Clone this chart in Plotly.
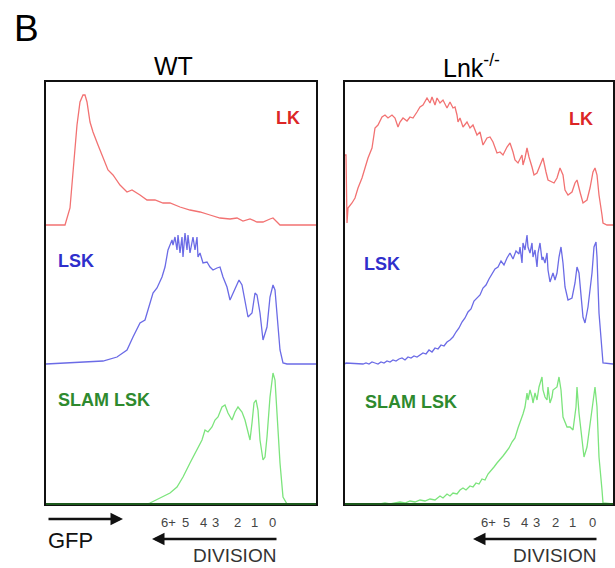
import plotly.graph_objects as go

# ---------------- data (GFP channel vs. relative cell count) ----------------
panels = ["WT", "Lnk<sup>-/-</sup>"]
populations = ["LK", "LSK", "SLAM LSK"]

# WT
wt_lk_x = [0, 19, 24, 27, 31, 34, 37, 39, 41, 44, 47, 52, 57, 62, 67, 74, 81, 86, 94, 101, 109, 117, 124, 134,
           144, 154, 164, 174, 184, 191, 197, 204, 211, 217, 224, 227, 231, 234, 270]
wt_lk_y = [0, 0, 17, 50, 100, 123, 130, 130, 123, 103, 93, 80, 67, 55, 50, 40, 33, 35, 30, 25, 25, 22, 22, 18,
           15, 13, 10, 7, 6, 7, 4, 6, 3, 3, 6, 7, 3, 0, 0]

wt_lsk_x = [0, 34, 57, 71, 81, 87, 94, 99, 102, 107, 111, 116, 119, 122, 124, 126, 127, 129, 131, 132, 134, 136,
            137, 139, 141, 142, 144, 147, 149, 151, 152, 154, 157, 161, 164, 167, 171, 174, 177, 181, 184, 187,
            191, 193, 196, 199, 202, 206, 209, 211, 214, 217, 221, 224, 227, 229, 231, 234, 237, 241, 270]
wt_lsk_y = [0, 2, 3, 7, 14, 27, 41, 44, 54, 71, 76, 87, 97, 114, 119, 124, 119, 127, 114, 129, 111, 127,
            107, 131, 114, 129, 111, 127, 114, 127, 107, 111, 101, 102, 97, 94, 96, 97, 87, 77, 64, 71,
            81, 84, 79, 61, 47, 51, 71, 69, 51, 24, 37, 67, 79, 74, 51, 14, 1, 0, 0]

wt_slam_x = [0, 101, 104, 114, 124, 131, 137, 144, 151, 156, 159, 162, 166, 169, 172, 176, 179, 182, 186, 189,
             192, 196, 199, 202, 204, 206, 208, 210, 212, 214, 217, 219, 221, 224, 226, 227, 229, 231, 234, 237,
             241, 270]
wt_slam_y = [0, 0, 1, 6, 11, 17, 27, 41, 54, 64, 74, 72, 77, 84, 87, 97, 99, 91, 84, 92,
             97, 92, 84, 71, 64, 81, 101, 104, 94, 64, 44, 47, 67, 107, 127, 131, 124, 91, 41, 7,
             0, 0]

# Lnk-/-
ko_lk_x = [0, 1, 2, 3, 7, 10, 13, 17, 20, 23, 27, 30, 33, 37, 40, 43, 47, 50, 53, 55, 58, 62, 65, 68, 72, 75,
           78, 82, 85, 87, 90, 92, 95, 98, 102, 105, 108, 110, 112, 113, 115, 118, 122, 125, 128, 132, 135, 138,
           142, 145, 148, 152, 155, 158, 162, 165, 168, 170, 173, 177, 178, 180, 182, 184, 187, 189, 192, 195,
           198, 201, 203, 207, 209, 212, 215, 218, 220, 223, 227, 230, 232, 235, 238, 242, 245, 248, 250, 252,
           254, 257, 258, 262, 268]
ko_lk_y = [70, 70, 2, 17, 22, 27, 37, 47, 57, 67, 77, 97, 100, 108, 110, 107, 110, 107, 98, 103, 107, 104,
           108, 107, 113, 118, 120, 127, 122, 128, 120, 127, 122, 125, 117, 123, 117, 118, 110, 103, 107, 98,
           103, 97, 100, 90, 93, 80, 87, 88, 83, 72, 73, 70, 78, 82, 73, 65, 62, 70, 60, 67, 77, 68, 58, 50,
           52, 60, 67, 53, 45, 43, 42, 47, 57, 50, 35, 30, 33, 42, 45, 33, 22, 25, 37, 53, 57, 50, 30, 10, 2,
           0, 0]

ko_lsk_x = [0, 1, 18, 21, 24, 27, 30, 33, 36, 39, 42, 45, 48, 51, 54, 57, 60, 63, 66, 69, 72, 75, 78, 81, 84,
            87, 90, 93, 96, 99, 102, 105, 108, 111, 114, 117, 120, 123, 126, 129, 132, 135, 138, 141, 144, 147,
            150, 153, 156, 159, 162, 165, 168, 171, 174,
            175, 177, 178, 180, 182, 183, 185, 187, 188, 190,
            192, 193, 195, 197, 198, 200, 202, 203, 205, 207, 208, 210, 212, 214, 216, 218, 220, 223, 227, 230,
            232, 234, 236, 238, 240, 243, 247, 249, 251, 252, 254, 257, 258, 268]
ko_lsk_y = [0, 1, 0, 1, 0, 2, 1, 0, 2, 1, 3, 2, 4, 3, 5, 6, 4, 7, 6, 8, 7, 9, 11, 10, 14,
            12, 16, 15, 19, 18, 22, 24, 27, 32, 36, 42, 46, 52, 55, 63, 66, 69, 76, 79, 85, 90,
            95, 97, 103, 99, 106, 111, 105, 113, 110,
            117, 101, 121, 114, 129, 117, 111, 121, 107, 114,
            97, 111, 121, 104, 107, 101, 111, 94, 82, 87, 91, 84, 91, 107, 117, 101, 77, 64, 66, 81,
            97, 91, 64, 47, 41, 57, 91, 117, 122, 107, 51, 11, 1, 0]

ko_slam_x = [0, 1, 35, 40, 45, 50, 55, 60, 65, 70, 75, 80, 85, 90, 95, 98, 102, 105, 108, 112, 115, 118, 121,
             125, 128, 131, 134, 137, 140, 143, 146, 149, 152, 155, 158, 161, 164, 167, 170, 173, 176, 178, 180,
             182, 183, 185, 187, 188, 190, 192, 194, 197, 198, 200, 202, 203, 205, 207, 208, 212, 214, 216, 218,
             222, 225, 228, 231, 232, 234, 237, 239, 242, 245, 248, 250, 252, 254, 257, 258, 268]
ko_slam_y = [0, 0, 0, 1, 0, 1, 2, 1, 3, 2, 4, 3, 5, 4, 8, 6, 10, 8, 11, 10, 14, 16, 14,
             18, 17, 21, 20, 25, 24, 30, 33, 37, 41, 44, 48, 52, 56, 62, 66, 76, 84, 90, 97,
             111, 104, 114, 107, 101, 111, 104, 117, 127, 114, 107, 104, 117, 101, 107, 114, 117, 127, 114, 87,
             77, 77, 74, 97, 117, 91, 61, 47, 57, 81, 107, 117, 97, 47, 14, 1, 0]

# division tick positions (GFP channel) and labels
div_labels = ["6+", "5", "4", "3", "2", "1", "0"]
wt_div_pos = [122, 139, 157, 169, 191, 208, 226]
ko_div_pos = [143, 161, 179, 191, 210, 227, 247]

curves = {
    0: {"LK": (wt_lk_x, wt_lk_y), "LSK": (wt_lsk_x, wt_lsk_y), "SLAM LSK": (wt_slam_x, wt_slam_y)},
    1: {"LK": (ko_lk_x, ko_lk_y), "LSK": (ko_lsk_x, ko_lsk_y), "SLAM LSK": (ko_slam_x, ko_slam_y)},
}

# ---------------- styling / layout ----------------
W, H = 615, 568
offsets = {"LK": 279, "LSK": 140, "SLAM LSK": 0}
line_colors = {"LK": "#f27272", "LSK": "#6b6be6", "SLAM LSK": "#7ce47c"}
label_colors = {"LK": "#dc2626", "LSK": "#2f2fcc", "SLAM LSK": "#2e8a2e"}
panel_px = [(46, 316), (345, 613)]
top_px, bot_px = 82, 504
x_ranges = [[0, 270], [0, 268]]
y_range = [0, 422]


def px(x):
    return x / W


def py(y):
    return 1 - y / H


fig = go.Figure()
for i in range(2):
    xa = "x" if i == 0 else "x2"
    ya = "y" if i == 0 else "y2"
    for pop in populations:
        xs, ys = curves[i][pop]
        fig.add_trace(go.Scatter(
            x=xs, y=[v + offsets[pop] for v in ys], mode="lines",
            line=dict(color=line_colors[pop], width=1.3, shape="linear"),
            xaxis=xa, yaxis=ya, showlegend=False, hoverinfo="skip"))

axis_common = dict(showgrid=False, zeroline=False, showticklabels=False, ticks="",
                   showline=True, mirror=True, linecolor="#111111", linewidth=1.6)
layout = dict(width=W, height=H, margin=dict(l=0, r=0, t=0, b=0), autosize=False,
              plot_bgcolor="white", paper_bgcolor="white", showlegend=False)
for i in range(2):
    sfx = "" if i == 0 else "2"
    layout["xaxis" + sfx] = dict(domain=[px(panel_px[i][0]), px(panel_px[i][1])], range=x_ranges[i],
                                 anchor="y" + sfx, **axis_common)
    layout["yaxis" + sfx] = dict(domain=[py(bot_px), py(top_px)], range=y_range,
                                 anchor="x" + sfx, **axis_common)
fig.update_layout(**layout)

ann = []
font_family = "Liberation Sans, Arial, sans-serif"
# panel letter
ann.append(dict(x=px(12), y=py(29), xref="paper", yref="paper", text="B", showarrow=False,
                xanchor="left", yanchor="middle", font=dict(size=37, color="black", family=font_family)))
# titles
for cx, t in zip([173, 471], panels):
    ann.append(dict(x=px(cx), y=py(66), xref="paper", yref="paper", text=t, showarrow=False,
                    xanchor="center", yanchor="middle", font=dict(size=25, color="black", family=font_family)))
# population labels
lab_pos = [
    {"LK": (302, 118, "right"), "LSK": (56, 261, "left"), "SLAM LSK": (56, 400, "left")},
    {"LK": (595, 119, "right"), "LSK": (362, 264, "left"), "SLAM LSK": (363, 402, "left")},
]
for i in range(2):
    for pop in populations:
        x0, y0, anc = lab_pos[i][pop]
        ann.append(dict(x=px(x0), y=py(y0), xref="paper", yref="paper", text="<b>%s</b>" % pop,
                        showarrow=False, xanchor=anc, yanchor="middle",
                        font=dict(size=18, color=label_colors[pop], family=font_family)))
# division numbers
for i, pos in enumerate([wt_div_pos, ko_div_pos]):
    xr = "x" if i == 0 else "x2"
    for p, lab in zip(pos, div_labels):
        ann.append(dict(x=p, y=py(522), xref=xr, yref="paper", text=lab, showarrow=False,
                        xanchor="center", yanchor="middle",
                        font=dict(size=13, color="#444444", family=font_family)))
# GFP arrow (head at right)
ann.append(dict(x=px(123), y=py(519), ax=47 - 123, ay=0, xref="paper", yref="paper",
                axref="pixel", ayref="pixel", text="", showarrow=True, arrowhead=2, arrowsize=1,
                arrowwidth=2.5, arrowcolor="#111111"))
ann.append(dict(x=px(46), y=py(540), xref="paper", yref="paper", text="GFP", showarrow=False,
                xanchor="left", yanchor="middle", font=dict(size=22, color="#111111", family=font_family)))
# DIVISION arrows (head at left)
for (x_head, x_tail), x_txt in zip([(152, 278), (473, 598)], [278, 598]):
    ann.append(dict(x=px(x_head), y=py(539), ax=x_tail - x_head, ay=0, xref="paper", yref="paper",
                    axref="pixel", ayref="pixel", text="", showarrow=True, arrowhead=2, arrowsize=1,
                    arrowwidth=2.5, arrowcolor="#111111"))
    ann.append(dict(x=px(x_txt), y=py(555), xref="paper", yref="paper", text="DIVISION", showarrow=False,
                    xanchor="right", yanchor="middle", font=dict(size=19, color="#333333", family=font_family)))
fig.update_layout(annotations=ann)

# dark green bottom border
shapes = []
for i in range(2):
    shapes.append(dict(type="line", xref="paper", yref="paper", x0=px(panel_px[i][0]), x1=px(panel_px[i][1]),
                       y0=py(bot_px), y1=py(bot_px), line=dict(color="#1e5a1e", width=2.2)))
fig.update_layout(shapes=shapes)

fig.write_html("out.html", config={"displayModeBar": False},
               post_script="document.body.style.margin='0px';document.body.style.overflow='hidden';")
